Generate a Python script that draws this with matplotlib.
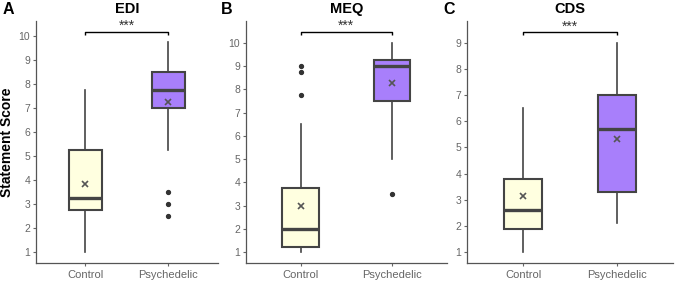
import matplotlib.pyplot as plt
import numpy as np

plt.rcParams['font.family'] = ['Liberation Sans', 'DejaVu Sans']

groups = ['Control', 'Psychedelic']
panels = ['EDI', 'MEQ', 'CDS']
letters = ['A', 'B', 'C']

# box stats per panel: [control, psychedelic]
whislo = [[1.0, 5.25], [1.0, 5.0], [1.0, 2.1]]
q1 = [[2.75, 7.0], [1.25, 7.5], [1.9, 3.3]]
med = [[3.25, 7.75], [2.0, 9.0], [2.6, 5.7]]
q3 = [[5.25, 8.5], [3.75, 9.25], [3.8, 7.0]]
whishi = [[7.75, 9.75], [6.5, 10.0], [6.5, 9.0]]
means = [[3.83, 7.26], [3.0, 8.27], [3.15, 5.33]]
fliers = [[[], [3.5, 3.0, 2.5]], [[7.75, 8.75, 9.0], [3.5]], [[], []]]
bracket_y = [10.18, 10.46, 9.40]
yticks = [range(1, 11), range(1, 11), range(1, 10)]
ylims = [(0.54, 10.64), (0.53, 10.93), (0.58, 9.82)]

fills = ['#FFFFE0', '#A87FFB']
dark = '#444444'
tickcol = '#666666'

W, H = 675, 281
boxes_px = [(35.7, 218), (245.7, 447), (467, 673)]
letter_px = [3, 221, 443]
top_px, bot_px = 21, 263.3

fig = plt.figure(figsize=(W / 100, H / 100), dpi=100)

for i in range(3):
    l, r = boxes_px[i]
    ax = fig.add_axes([l / W, (H - bot_px) / H, (r - l) / W, (bot_px - top_px) / H])
    stats = []
    for j in range(2):
        stats.append(dict(whislo=whislo[i][j], q1=q1[i][j], med=med[i][j],
                          q3=q3[i][j], whishi=whishi[i][j], mean=means[i][j],
                          fliers=fliers[i][j]))
    bp = ax.bxp(stats, positions=[1, 2], widths=0.4, showcaps=False,
                showmeans=True, patch_artist=True,
                boxprops=dict(edgecolor=dark, linewidth=1.5),
                whiskerprops=dict(color=dark, linewidth=1.2),
                medianprops=dict(color=dark, linewidth=2.4),
                meanprops=dict(marker='x', markeredgecolor='#555555',
                               markersize=5, markeredgewidth=1.2),
                flierprops=dict(marker='o', markerfacecolor='#333333',
                                markeredgecolor='#333333', markersize=2.8))
    for patch, c in zip(bp['boxes'], fills):
        patch.set_facecolor(c)

    by = bracket_y[i]
    ax.plot([1, 1, 2, 2], [by - 0.12, by, by, by - 0.12], color='black', lw=1.0,
            solid_capstyle='butt')
    ax.text(1.5, by - 0.05, '***', ha='center', va='bottom', fontsize=10,
            color='#333333')

    ax.set_xlim(0.4, 2.6)
    ax.set_ylim(*ylims[i])
    ax.set_yticks(list(yticks[i]))
    ax.set_xticks([1, 2])
    ax.set_xticklabels(groups)
    ax.tick_params(axis='y', labelsize=7.5, colors=tickcol, length=2.5, width=0.8, pad=1.5)
    ax.tick_params(axis='x', labelsize=8, colors=tickcol, length=2.5, width=0.8, pad=2)
    for s in ['top', 'right']:
        ax.spines[s].set_visible(False)
    for s in ['left', 'bottom']:
        ax.spines[s].set_color('#555555')
        ax.spines[s].set_linewidth(0.9)
    ax.set_title(panels[i], fontsize=10.5, fontweight='bold', pad=6)
    if i == 0:
        ax.set_ylabel('Statement Score', fontsize=10, fontweight='bold', labelpad=3)
    fig.text(letter_px[i] / W, 1 - 10 / H, letters[i], fontsize=11.5,
             fontweight='bold', ha='left', va='center')

fig.savefig('out.png', dpi=100)
